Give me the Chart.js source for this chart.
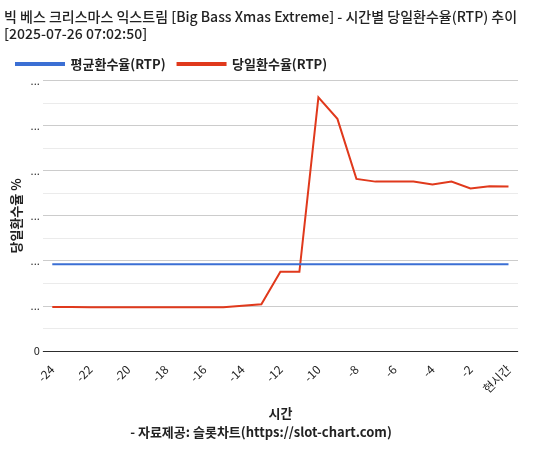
<!DOCTYPE html><html><head><meta charset="utf-8"><script src="https://cdn.jsdelivr.net/npm/chart.js@4"></script>
<style>body{margin:0;background:#fff}#w{width:544px;height:450px}</style></head><body><div id="w"><canvas id="c"></canvas></div>
<script>
const categories=["-24","-23","-22","-21","-20","-19","-18","-17","-16","-15","-14","-13","-12","-11","-10","-9","-8","-7","-6","-5","-4","-3","-2","-1","현시간"];
const avgRtp=[96.5,96.5,96.5,96.5,96.5,96.5,96.5,96.5,96.5,96.5,96.5,96.5,96.5,96.5,96.5,96.5,96.5,96.5,96.5,96.5,96.5,96.5,96.5,96.5,96.5];
const dayRtp=[48.9,48.9,48.6,48.6,48.6,48.6,48.6,48.6,48.6,48.6,50.5,52,88,88,281.5,257.6,191,188,188,188,184.8,188,180.4,183,182.6];
const xTickLabels=["-24","","-22","","-20","","-18","","-16","","-14","","-12","","-10","","-8","","-6","","-4","","-2","","현시간"];
Chart.defaults.font.family="'Noto Sans CJK KR','Noto Sans',sans-serif";
Chart.defaults.color="#222";
new Chart(document.getElementById('c'),{type:'line',
data:{labels:categories,datasets:[
{label:'평균환수율(RTP)',data:avgRtp,borderColor:'#3b6fd4',backgroundColor:'#3b6fd4',borderWidth:2,pointRadius:0},
{label:'당일환수율(RTP)',data:dayRtp,borderColor:'#e0391c',backgroundColor:'#e0391c',borderWidth:2,pointRadius:0}]},
options:{responsive:true,maintainAspectRatio:false,animation:false,
layout:{padding:{left:4,right:26,top:8,bottom:10}},
plugins:{
title:{display:true,align:'start',text:['빅 베스 크리스마스 익스트림 [Big Bass Xmas Extreme] - 시간별 당일환수율(RTP) 추이','[2025-07-26 07:02:50]'],font:{size:14,weight:'500'},color:'#222',padding:{bottom:4},lineHeight:1.25},
legend:{align:'start',labels:{boxWidth:48,boxHeight:2,font:{size:13,weight:'bold'},padding:12}},
subtitle:{display:true,position:'bottom',text:'- 자료제공: 슬롯차트(https://slot-chart.com)',font:{size:13,weight:'bold'},color:'#222',padding:{top:0}},
tooltip:{enabled:false}},
scales:{
x:{offset:true,title:{display:true,text:'시간',font:{size:13,weight:'bold'},padding:{top:6}},grid:{display:false},
ticks:{autoSkip:false,maxRotation:45,minRotation:45,font:{size:12},callback:(v,i)=>xTickLabels[i]}},
y:{min:0,max:300,title:{display:true,text:'당일환수율 %',font:{size:13,weight:'bold'}},
ticks:{stepSize:25,font:{size:11},callback:v=>v===0?'0':(v%50===0?'...':'')},
grid:{color:ctx=>ctx.tick.value===0?'#333':(ctx.tick.value%50===0?'#ccc':'#ebebeb'),drawTicks:false},border:{display:false}}}}});
</script></body></html>
